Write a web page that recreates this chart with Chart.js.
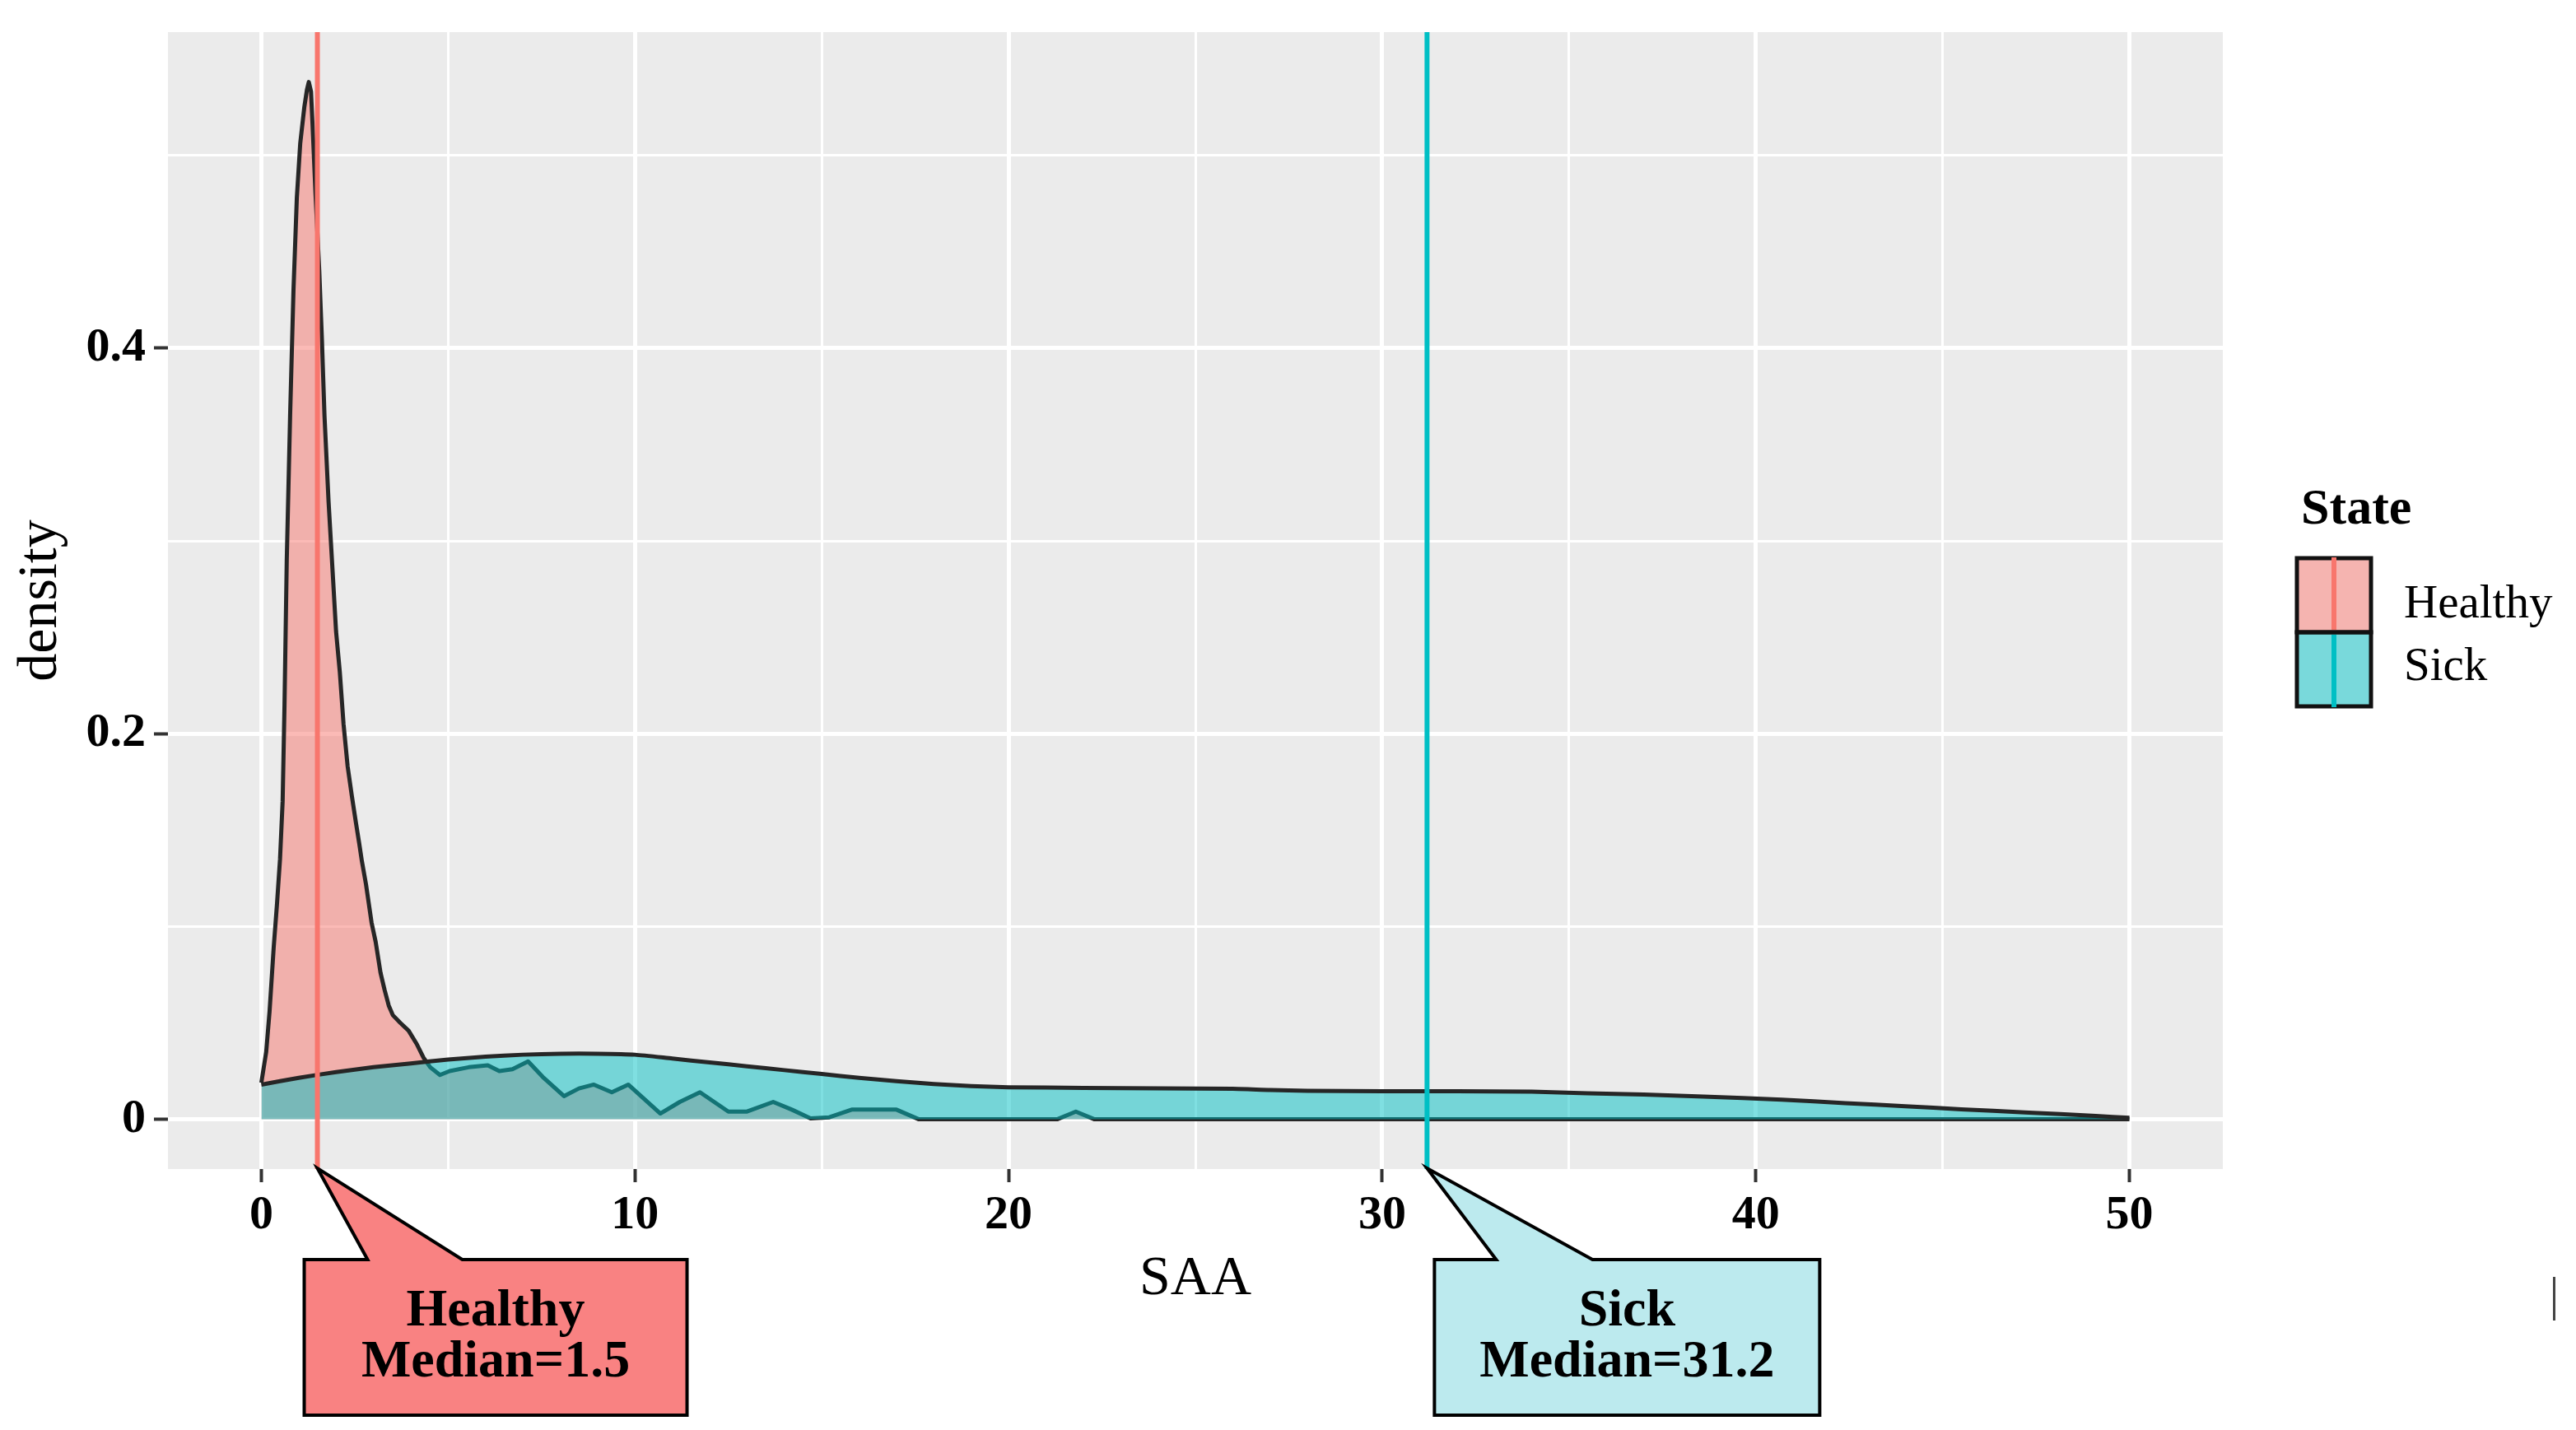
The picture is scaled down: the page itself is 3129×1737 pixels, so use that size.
<!DOCTYPE html>
<html>
<head>
<meta charset="utf-8">
<script src="https://cdn.jsdelivr.net/npm/chart.js@4.4.1/dist/chart.umd.min.js"></script>
<style>
html,body{margin:0;padding:0;background:#fff;}
#wrap{width:3129px;height:1737px;position:relative;}
</style>
</head>
<body>
<div id="wrap"><canvas id="c"></canvas></div>
<script>
// ---------------- data ----------------
const healthyX = [0,0.13,0.22,0.33,0.42,0.5,0.57,0.62,0.68,0.77,0.86,0.95,1.04,1.15,1.22,1.27,1.33,1.37,1.45,1.55,1.62,1.69,1.8,1.92,2.0,2.1,2.2,2.31,2.42,2.53,2.62,2.69,2.8,2.95,3.06,3.19,3.3,3.41,3.52,3.72,3.94,4.16,4.34,4.52,4.78,5.04,5.55,6.06,6.37,6.72,7.14,7.53,8.1,8.5,8.9,9.38,9.82,10.68,11.2,11.74,12.5,13.0,13.7,14.2,14.7,15.2,15.8,17.0,17.6,21.3,21.8,22.3,50];
const healthyY = [0.019,0.035,0.056,0.089,0.112,0.135,0.165,0.215,0.29,0.365,0.43,0.478,0.506,0.525,0.534,0.538,0.533,0.516,0.48,0.44,0.405,0.365,0.32,0.28,0.253,0.232,0.205,0.183,0.168,0.154,0.143,0.134,0.122,0.102,0.092,0.076,0.067,0.059,0.054,0.05,0.046,0.039,0.032,0.027,0.023,0.025,0.027,0.028,0.025,0.026,0.03,0.022,0.012,0.016,0.018,0.014,0.018,0.003,0.009,0.014,0.004,0.004,0.009,0.005,0.0005,0.001,0.005,0.005,0,0,0.004,0,0];
const sickX = [0,1,2,3,4,5,6,7,8,9,10,11,12,13,14,15,16,17,18,19,20,22,24,26,27,28,30,32,34,35.5,37,38.6,40.7,42.4,44,45.5,47.2,49.1,50];
const sickY = [0.018,0.0215,0.0245,0.027,0.029,0.031,0.0325,0.0335,0.034,0.034,0.0335,0.0315,0.0295,0.0275,0.0255,0.0235,0.0215,0.0198,0.0183,0.0172,0.0166,0.0163,0.016,0.0158,0.0152,0.0148,0.0146,0.0145,0.0143,0.0135,0.0128,0.0118,0.0102,0.0084,0.0068,0.0052,0.0036,0.0017,0.0008];
const groups = ['Healthy', 'Sick'];
const medians = [1.5, 31.2];
const calloutLines = [['Healthy', 'Median=1.5'], ['Sick', 'Median=31.2']];
const xMajorTicks = [0, 10, 20, 30, 40, 50];
const xTickLabels = ['0', '10', '20', '30', '40', '50'];
const xMinorTicks = [5, 15, 25, 35, 45];
const yMajorTicks = [0, 0.2, 0.4];
const yTickLabels = ['0', '0.2', '0.4'];
const yMinorTicks = [0.1, 0.3, 0.5];
const legendTitle = 'State';
const xTitle = 'SAA';
const yTitle = 'density';

// ---------------- styles ----------------
const FONT = '"Liberation Serif", "Times New Roman", serif';
const lineCols = ['#F8766D', '#00BFC4'];
const fillCols = ['rgba(248,118,109,0.5)', 'rgba(0,191,196,0.5)'];
const boxCols = ['#F98282', '#BCEAEE'];
// callout geometry relative to tip: [boxLeft, boxWidth, baseLeft, baseRight]
const calloutGeom = [[-16, 465, 61, 176], [9, 468, 84, 201]];

const bgPlugin = {
  id: 'bg',
  beforeDraw(chart) {
    const {ctx, chartArea: a} = chart;
    ctx.save();
    ctx.fillStyle = '#fff';
    ctx.fillRect(0, 0, chart.width, chart.height);
    ctx.fillStyle = '#EBEBEB';
    ctx.fillRect(a.left, a.top, a.right - a.left, a.bottom - a.top);
    ctx.restore();
  }
};

const medianPlugin = {
  id: 'medians',
  afterDatasetsDraw(chart) {
    const {ctx, chartArea: a, scales} = chart;
    ctx.save();
    medians.forEach((m, i) => {
      const x = scales.x.getPixelForValue(m);
      ctx.strokeStyle = lineCols[i];
      ctx.lineWidth = 6;
      ctx.beginPath();
      ctx.moveTo(x, a.top);
      ctx.lineTo(x, a.bottom);
      ctx.stroke();
    });
    ctx.restore();
  }
};

const overlayPlugin = {
  id: 'overlay',
  afterDraw(chart) {
    const {ctx, chartArea: a, scales} = chart;
    ctx.save();
    // callouts
    medians.forEach((m, i) => {
      const tx = scales.x.getPixelForValue(m);
      const ty = a.bottom - 1;
      const g = calloutGeom[i];
      const L = tx + g[0], R = L + g[1], T = 1530, B = 1719;
      ctx.beginPath();
      ctx.moveTo(L, T);
      ctx.lineTo(tx + g[2], T);
      ctx.lineTo(tx, ty);
      ctx.lineTo(tx + g[3], T);
      ctx.lineTo(R, T);
      ctx.lineTo(R, B);
      ctx.lineTo(L, B);
      ctx.closePath();
      ctx.fillStyle = boxCols[i];
      ctx.fill();
      ctx.lineWidth = 4;
      ctx.strokeStyle = '#000';
      ctx.lineJoin = 'miter';
      ctx.stroke();
      ctx.fillStyle = '#000';
      ctx.font = 'bold 64px ' + FONT;
      ctx.textAlign = 'center';
      ctx.textBaseline = 'alphabetic';
      const cx = (L + R) / 2;
      ctx.fillText(calloutLines[i][0], cx, T + 80);
      ctx.fillText(calloutLines[i][1], cx, T + 142);
    });
    // legend
    ctx.textAlign = 'left';
    ctx.textBaseline = 'alphabetic';
    ctx.fillStyle = '#000';
    ctx.font = 'bold 62px ' + FONT;
    ctx.fillText(legendTitle, 2795, 636);
    const kx = 2790, kw = 90, kh = 90, ky0 = 678;
    groups.forEach((gname, i) => {
      const ky = ky0 + i * kh;
      ctx.fillStyle = '#F2F2F2';
      ctx.fillRect(kx, ky, kw, kh);
      ctx.fillStyle = fillCols[i];
      ctx.fillRect(kx, ky, kw, kh);
    });
    groups.forEach((gname, i) => {
      const ky = ky0 + i * kh;
      ctx.lineWidth = 5;
      ctx.strokeStyle = '#111';
      ctx.strokeRect(kx, ky, kw, kh);
    });
    groups.forEach((gname, i) => {
      const ky = ky0 + i * kh;
      ctx.strokeStyle = lineCols[i];
      ctx.lineWidth = 6;
      ctx.beginPath();
      ctx.moveTo(kx + kw / 2, ky + (i === 0 ? -1 : 3));
      ctx.lineTo(kx + kw / 2, ky + kh + (i === 0 ? -3 : 1));
      ctx.stroke();
      ctx.fillStyle = '#000';
      ctx.font = '57px ' + FONT;
      ctx.fillText(gname, 2920, i === 0 ? 750 : 826);
    });
    // small stray mark at right edge of the original figure
    ctx.fillStyle = '#444';
    ctx.fillRect(3101, 1551, 3, 53);
    ctx.restore();
  }
};

const isXMajor = v => xMajorTicks.includes(v);
const isYMajor = v => yMajorTicks.includes(v);

new Chart(document.getElementById('c'), {
  type: 'line',
  data: {
    datasets: [
      {
        label: groups[0],
        data: healthyX.map((x, i) => ({x: x, y: healthyY[i]})),
        borderColor: '#262626',
        borderWidth: 5,
        backgroundColor: fillCols[0],
        fill: 'origin',
        pointRadius: 0,
        tension: 0,
        borderJoinStyle: 'round',
        order: 2
      },
      {
        label: groups[1],
        data: sickX.map((x, i) => ({x: x, y: sickY[i]})),
        borderColor: '#262626',
        borderWidth: 5,
        backgroundColor: fillCols[1],
        fill: 'origin',
        pointRadius: 0,
        tension: 0.2,
        borderJoinStyle: 'round',
        order: 1
      }
    ]
  },
  options: {
    responsive: true,
    maintainAspectRatio: false,
    devicePixelRatio: 1,
    animation: false,
    events: [],
    layout: {padding: {left: 0, right: 429, top: 24, bottom: 0}},
    plugins: {legend: {display: false}, tooltip: {enabled: false}},
    scales: {
      x: {
        type: 'linear',
        min: -2.5,
        max: 52.5,
        afterBuildTicks: s => {
          s.ticks = [...xMajorTicks, ...xMinorTicks].sort((p, q) => p - q).map(v => ({value: v}));
        },
        afterFit: s => { s.height = 317; },
        ticks: {
          autoSkip: false,
          maxRotation: 0,
          minRotation: 0,
          padding: 12,
          color: '#000',
          font: {family: FONT, size: 58, weight: 'bold', lineHeight: 1},
          callback: v => { const i = xMajorTicks.indexOf(v); return i >= 0 ? xTickLabels[i] : ''; }
        },
        grid: {
          color: '#ffffff',
          lineWidth: c => (c.tick && isXMajor(c.tick.value)) ? 5 : 3,
          drawTicks: true,
          tickLength: 16,
          tickWidth: 4,
          tickColor: c => (c.tick && isXMajor(c.tick.value)) ? '#333333' : 'rgba(0,0,0,0)'
        },
        border: {display: false},
        title: {display: true, text: xTitle, color: '#000', font: {family: FONT, size: 68, lineHeight: 1}, padding: {top: 0, bottom: 149}}
      },
      y: {
        type: 'linear',
        min: -0.0258,
        max: 0.5639,
        afterBuildTicks: s => {
          s.ticks = [...yMajorTicks, ...yMinorTicks].sort((p, q) => p - q).map(v => ({value: v}));
        },
        afterFit: s => { s.width = 204; },
        ticks: {
          autoSkip: false,
          padding: 10,
          color: '#000',
          font: {family: FONT, size: 58, weight: 'bold', lineHeight: 1},
          callback: v => { const i = yMajorTicks.indexOf(v); return i >= 0 ? yTickLabels[i] : ''; }
        },
        grid: {
          color: '#ffffff',
          lineWidth: c => (c.tick && isYMajor(c.tick.value)) ? 5 : 3,
          drawTicks: true,
          tickLength: 17,
          tickWidth: 4,
          tickColor: c => (c.tick && isYMajor(c.tick.value)) ? '#333333' : 'rgba(0,0,0,0)'
        },
        border: {display: false},
        title: {display: true, text: yTitle, color: '#000', font: {family: FONT, size: 68, lineHeight: 1}, padding: {top: 16, bottom: 0}}
      }
    }
  },
  plugins: [bgPlugin, medianPlugin, overlayPlugin]
});
</script>
</body>
</html>
